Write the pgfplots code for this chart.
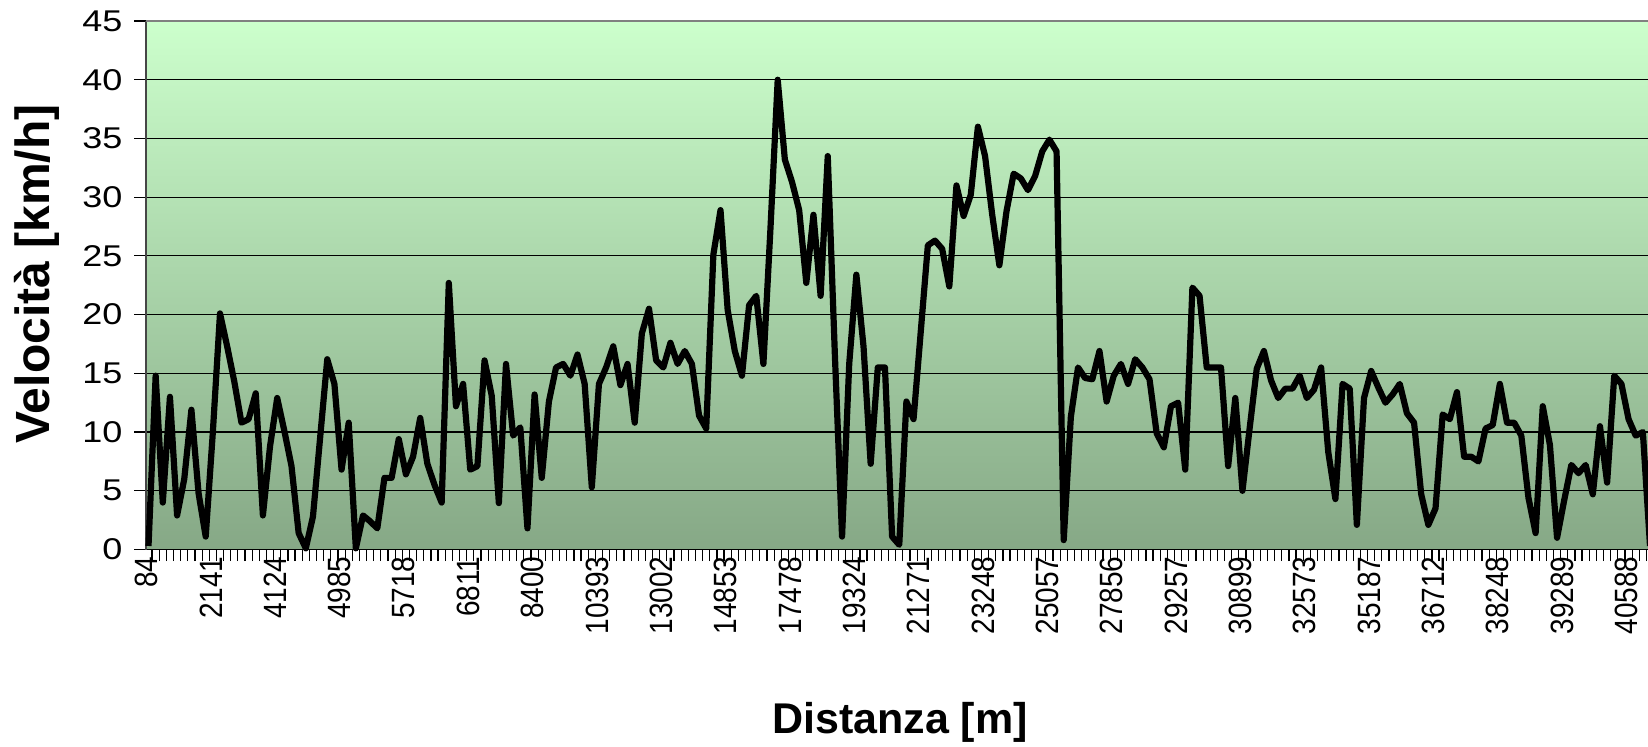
\documentclass[border=0pt]{standalone}
\usepackage{fontspec}
\setmainfont{Liberation Sans}
\newfontfamily\tickfont[FakeStretch=1.2]{Liberation Sans}
\usepackage{graphicx}
\usepackage{pgfplots}
\pgfplotsset{compat=1.18}
\definecolor{bgtop}{RGB}{204,255,204}
\definecolor{bgbot}{RGB}{134,168,134}
\definecolor{axgray}{RGB}{70,70,70}
\newcommand\xl[1]{\scalebox{1}[1.15]{#1}}
\begin{document}
\begin{tikzpicture}
\begin{axis}[
  at={(0,0)}, anchor=south west,
  scale only axis, width=751pt, height=264.25pt,
  xmin=-0.35, xmax=209.72,
  ymin=0, ymax=45,
  clip=false,
  axis x line*=bottom, axis y line*=left,
  x axis line style={black, line width=0.75pt},
  y axis line style={axgray, line width=0.9pt},
  axis background/.style={shade, top color=bgtop, bottom color=bgbot},
  ytick={0,5,...,45},
  ymajorgrids, grid style={black, line width=0.6pt},
  xtick={-0.5,0.5,...,209.5},
  xticklabels={},
  tick align=outside,
  major tick length=5.75pt,
  tick style={black, line width=0.6pt},
  yticklabel style={font=\fontsize{15}{17}\tickfont, xshift=-2.5pt},
  /pgf/number format/assume math mode=true,
  extra x ticks={0,9,...,207},
  extra x tick labels={\xl{84},\xl{2141},\xl{4124},\xl{4985},\xl{5718},\xl{6811},\xl{8400},\xl{10393},\xl{13002},\xl{14853},\xl{17478},\xl{19324},\xl{21271},\xl{23248},\xl{25057},\xl{27856},\xl{29257},\xl{30899},\xl{32573},\xl{35187},\xl{36712},\xl{38248},\xl{39289},\xl{40588}},
  extra x tick style={major tick length=0pt, xticklabel style={rotate=90, anchor=east, yshift=1pt, font=\fontsize{14}{16}\selectfont}},
]
\addplot[black, line width=3.1pt, line join=round, mark=none] coordinates {
(0,0.3)(1,14.8)(2,4.0)(3,13.0)(4,2.9)(5,6.0)(6,11.9)(7,4.8)(8,1.1)(9,10.0)
(10,20.1)(11,17.3)(12,14.3)(13,10.8)(14,11.1)(15,13.3)(16,2.9)(17,8.8)(18,12.9)(19,10.1)
(20,7.1)(21,1.4)(22,0.1)(23,2.8)(24,9.5)(25,16.2)(26,14.1)(27,6.8)(28,10.8)(29,0.1)
(30,2.9)(31,2.4)(32,1.8)(33,6.1)(34,6.1)(35,9.4)(36,6.4)(37,7.9)(38,11.2)(39,7.3)
(40,5.5)(41,4.0)(42,22.7)(43,12.2)(44,14.1)(45,6.8)(46,7.1)(47,16.1)(48,13.1)(49,3.95)
(50,15.8)(51,9.7)(52,10.4)(53,1.8)(54,13.2)(55,6.1)(56,12.6)(57,15.5)(58,15.8)(59,14.8)
(60,16.6)(61,14.1)(62,5.3)(63,14.1)(64,15.5)(65,17.3)(66,14.0)(67,15.8)(68,10.8)(69,18.4)
(70,20.5)(71,16.1)(72,15.5)(73,17.6)(74,15.8)(75,16.9)(76,15.8)(77,11.4)(78,10.3)(79,25.1)
(80,28.9)(81,20.4)(82,16.9)(83,14.8)(84,20.8)(85,21.6)(86,15.8)(87,27.5)(88,40.0)(89,33.2)
(90,31.3)(91,28.9)(92,22.7)(93,28.5)(94,21.6)(95,33.5)(96,16.5)(97,1.1)(98,15.8)(99,23.4)
(100,17.3)(101,7.3)(102,15.5)(103,15.5)(104,1.1)(105,0.4)(106,12.6)(107,11.1)(108,18.5)(109,25.9)
(110,26.3)(111,25.6)(112,22.4)(113,31.0)(114,28.4)(115,30.2)(116,36.0)(117,33.5)(118,28.5)(119,24.2)
(120,28.8)(121,32.0)(122,31.6)(123,30.6)(124,31.8)(125,33.9)(126,34.9)(127,33.9)(128,0.8)(129,11.3)
(130,15.5)(131,14.6)(132,14.5)(133,16.9)(134,12.6)(135,14.8)(136,15.8)(137,14.1)(138,16.2)(139,15.5)
(140,14.5)(141,9.9)(142,8.7)(143,12.2)(144,12.5)(145,6.8)(146,22.3)(147,21.6)(148,15.5)(149,15.5)
(150,15.5)(151,7.1)(152,12.9)(153,5.0)(154,10.3)(155,15.4)(156,16.9)(157,14.4)(158,12.9)(159,13.7)
(160,13.7)(161,14.8)(162,12.9)(163,13.6)(164,15.5)(165,8.3)(166,4.3)(167,14.1)(168,13.7)(169,2.1)
(170,12.9)(171,15.2)(172,13.8)(173,12.5)(174,13.2)(175,14.1)(176,11.6)(177,10.8)(178,4.7)(179,2.1)
(180,3.5)(181,11.5)(182,11.1)(183,13.4)(184,7.9)(185,7.9)(186,7.5)(187,10.3)(188,10.6)(189,14.1)
(190,10.8)(191,10.8)(192,9.7)(193,4.4)(194,1.4)(195,12.2)(196,8.9)(197,1.0)(198,4.2)(199,7.2)
(200,6.5)(201,7.2)(202,4.7)(203,10.5)(204,5.7)(205,14.8)(206,14.1)(207,11.1)(208,9.7)(209,10.0)
(210,0.3)
};
\draw[gray, line width=0.75pt] (rel axis cs:0,1) -- (rel axis cs:1,1);
\end{axis}
\node[rotate=90, font=\fontsize{24}{28}\selectfont\bfseries] at (-54.6pt,137.75pt) {Velocità [km/h]};
\node[font=\fontsize{21.5}{25}\selectfont\bfseries] at (377pt,-86.25pt) {Distanza [m]};
\pgfresetboundingbox
\useasboundingbox (-73pt,-98.25pt) rectangle (751pt,274.75pt);
\end{tikzpicture}
\end{document}
